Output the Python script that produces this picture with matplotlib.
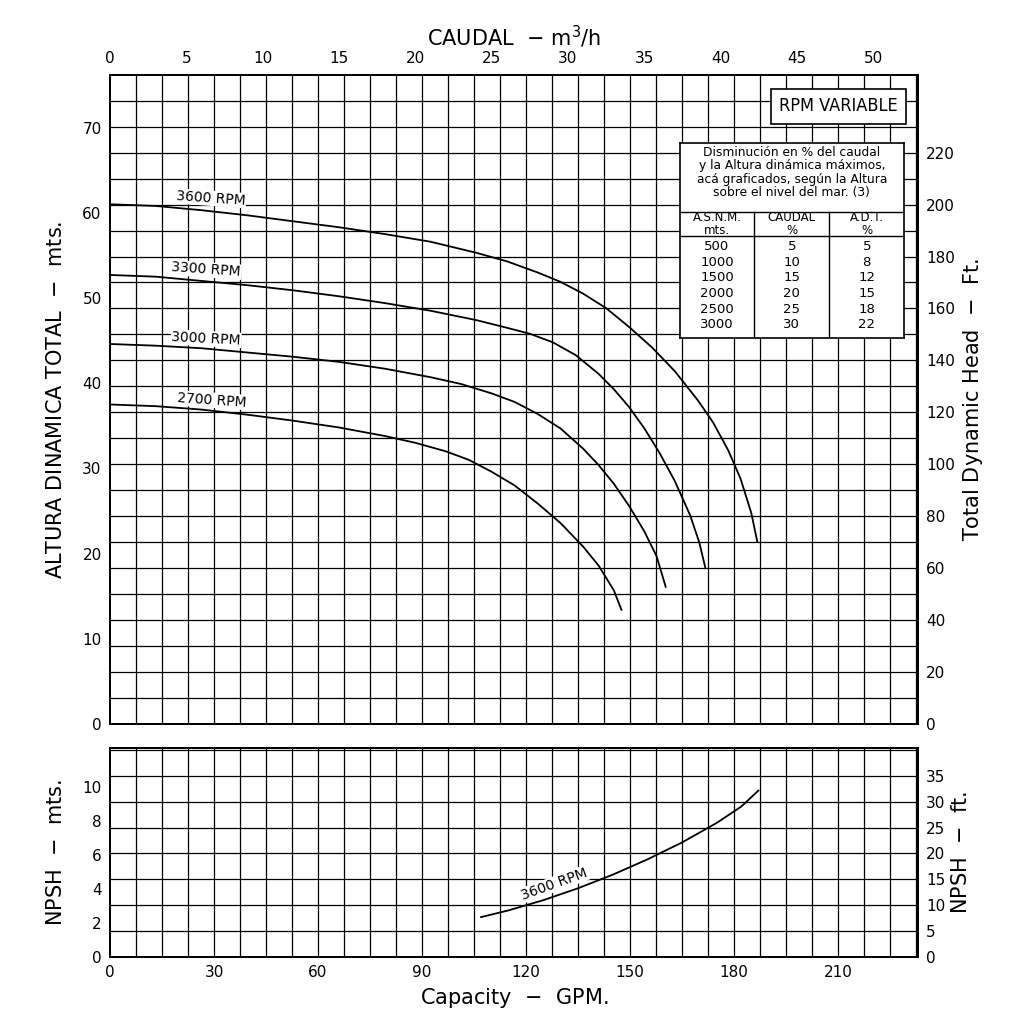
import matplotlib.pyplot as plt
import numpy as np

M3H_TO_GPM = 4.4029
M_TO_FT = 3.2808

# head curves, caudal m3/h vs altura m
q3600 = [0, 3, 6, 9, 12, 15, 18, 21, 24, 26, 28, 29.5, 31, 32.5, 34, 35.5, 37, 38.5, 39.5, 40.5, 41.3, 42, 42.4]
h3600 = [61, 60.8, 60.3, 59.7, 59, 58.3, 57.5, 56.6, 55.3, 54.3, 53, 51.9, 50.5, 48.8, 46.6, 44.2, 41.4, 38, 35.4, 32.1, 28.8, 24.8, 21.4]
q3300 = [0, 3, 6, 9, 12, 15, 18, 21, 24, 26, 27.5, 29, 30.5, 32, 33, 34, 35, 36, 37, 38, 38.6, 39]
h3300 = [52.7, 52.5, 52.0, 51.5, 50.9, 50.2, 49.4, 48.5, 47.4, 46.5, 45.8, 44.8, 43.3, 41.1, 39.3, 37.2, 34.7, 31.8, 28.5, 24.5, 21.3, 18.3]
q3000 = [0, 3, 6, 9, 12, 15, 18, 21, 23, 25, 26.5, 28, 29.5, 31, 32, 33, 34, 35, 35.8, 36.4]
h3000 = [44.6, 44.4, 44.1, 43.6, 43.1, 42.5, 41.7, 40.7, 39.9, 38.8, 37.8, 36.4, 34.7, 32.3, 30.4, 28.2, 25.6, 22.6, 19.7, 16.1]
q2700 = [0, 3, 6, 9, 12, 15, 18, 20, 22, 23.5, 25, 26.5, 28, 29.5, 31, 32, 33, 33.5]
h2700 = [37.5, 37.3, 36.9, 36.3, 35.6, 34.8, 33.8, 33.0, 32.0, 31.0, 29.6, 28.0, 25.9, 23.6, 20.8, 18.6, 15.7, 13.4]

# NPSH curve, GPM vs m
npsh_gpm = [107, 115, 125, 135, 145, 155, 165, 175, 182, 187]
npsh_m = [2.35, 2.75, 3.35, 4.05, 4.85, 5.75, 6.75, 7.9, 8.85, 9.8]

table_rows = [("500", "5", "5"), ("1000", "10", "8"), ("1500", "15", "12"),
              ("2000", "20", "15"), ("2500", "25", "18"), ("3000", "30", "22")]

fig = plt.figure(figsize=(10.24, 10.24), dpi=100)
ax = fig.add_axes([0.1074, 0.293, 0.789, 0.634])
ax2 = fig.add_axes([0.1074, 0.0654, 0.789, 0.204])

xmax_q = 233 / M3H_TO_GPM
ax.set_xlim(0, xmax_q)
ax.set_ylim(0, 76.2)
for g in np.arange(7.5, 233, 7.5):
    ax.axvline(g / M3H_TO_GPM, color='k', lw=0.9)
for f in np.arange(10, 250, 10):
    ax.axhline(f / M_TO_FT, color='k', lw=0.9)

for q, h in [(q3600, h3600), (q3300, h3300), (q3000, h3000), (q2700, h2700)]:
    ax.plot(q, h, color='k', lw=1.3)
labels = [("3600 RPM", 4.3, 60.6, -4), ("3300 RPM", 4, 52.2, -4),
          ("3000 RPM", 4, 44.2, -3), ("2700 RPM", 4.4, 36.9, -4)]
for t, x, y, r in labels:
    ax.text(x, y, t, fontsize=10, rotation=r, ha='left', va='bottom',
            bbox=dict(fc='white', ec='none', pad=0.5))

ax.xaxis.tick_top()
ax.set_xticks(range(0, 55, 5))
ax.set_yticks(range(0, 75, 10))
ax.tick_params(labelsize=11, length=0, pad=6)
ax.set_xlabel('CAUDAL  $-$ m$^3$/h', fontsize=15)
ax.xaxis.set_label_position('top')
ax.set_ylabel('ALTURA DINAMICA TOTAL  $-$  mts.', fontsize=15, labelpad=12)
axr = ax.twinx()
axr.set_ylim(0, 76.2 * M_TO_FT)
axr.set_yticks(range(0, 240, 20))
axr.tick_params(labelsize=11, length=0, pad=6)
axr.set_ylabel('Total Dynamic Head  $-$  Ft.', fontsize=15)

ax.text(0.975, 0.965, 'RPM VARIABLE', transform=ax.transAxes, fontsize=13,
        ha='right', va='top', fontstretch='condensed',
        bbox=dict(fc='white', ec='k', lw=1.2, pad=6))

# table inset
tab = ax.inset_axes([0.705, 0.595, 0.278, 0.3])
tab.set_xlim(0, 3)
tab.set_ylim(0, 13)
tab.set_xticks([])
tab.set_yticks([])
tab.set_facecolor('white')
for s in tab.spines.values():
    s.set_linewidth(1.2)
txt = ("Disminución en % del caudal\ny la Altura dinámica máximos,\n"
       "acá graficados, según la Altura\nsobre el nivel del mar. (3)")
tab.text(1.5, 12.8, txt, fontsize=8.8, ha='center', va='top', linespacing=1.05)
tab.axhline(8.4, color='k', lw=1)
tab.axhline(6.8, color='k', lw=1)
tab.plot([1, 1], [0, 8.4], color='k', lw=1)
tab.plot([2, 2], [0, 8.4], color='k', lw=1)
for i, h in enumerate(("A.S.N.M.\nmts.", "CAUDAL\n%", "A.D.T.\n%")):
    tab.text(i + 0.5, 7.6, h, fontsize=8.5, ha='center', va='center', linespacing=1.0)
for j, row in enumerate(table_rows):
    for i, v in enumerate(row):
        tab.text(i + 0.5, 6.1 - j * 1.05, v, fontsize=9.5, ha='center', va='center')

# NPSH panel
ax2.set_xlim(0, 233)
ax2.set_ylim(0, 12.3)
for g in np.arange(7.5, 233, 7.5):
    ax2.axvline(g, color='k', lw=0.9)
for f in np.arange(5, 45, 5):
    ax2.axhline(f / M_TO_FT, color='k', lw=0.9)
ax2.plot(npsh_gpm, npsh_m, color='k', lw=1.3)
ax2.text(118, 3.2, '3600 RPM', fontsize=10, rotation=20, ha='left', va='bottom',
         bbox=dict(fc='white', ec='none', pad=0.5))
ax2.set_xticks(range(0, 240, 30))
ax2.set_yticks(range(0, 12, 2))
ax2.tick_params(labelsize=11, length=0, pad=6)
ax2.set_xlabel('Capacity  $-$  GPM.', fontsize=15)
ax2.set_ylabel('NPSH  $-$  mts.', fontsize=15, labelpad=12)
ax2r = ax2.twinx()
ax2r.set_ylim(0, 12.3 * M_TO_FT)
ax2r.set_yticks(range(0, 40, 5))
ax2r.tick_params(labelsize=11, length=0, pad=6)
ax2r.set_ylabel('NPSH  $-$  ft.', fontsize=15)

for a in (ax, ax2, axr, ax2r):
    for s in a.spines.values():
        s.set_linewidth(1.3)

fig.savefig('out.png', dpi=100)
